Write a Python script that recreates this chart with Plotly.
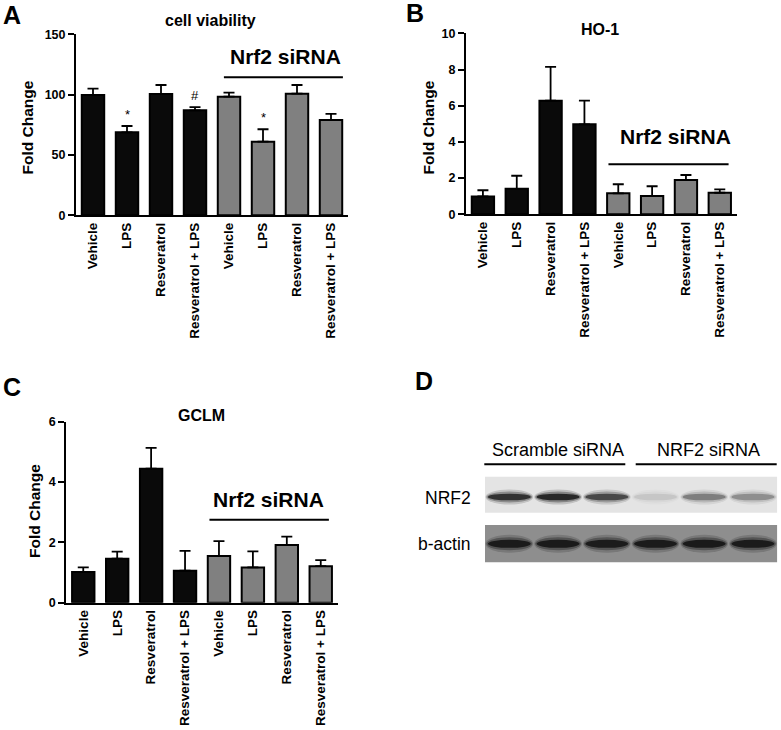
import plotly.graph_objects as go

W, H = 781, 730
FONT = "Liberation Sans, Arial, sans-serif"

# ---------------- data ----------------
tick_labels = ["Vehicle", "LPS", "Resveratrol", "Resveratrol + LPS",
               "Vehicle", "LPS", "Resveratrol", "Resveratrol + LPS"]
positions = list(range(8))

viability_mean = [99.7, 68.8, 100.6, 87.0, 98.3, 61.0, 100.8, 79.0]
viability_err = [5.3, 5.2, 7.4, 2.6, 3.4, 10.3, 7.2, 5.0]
viability_marks = ["", "*", "", "#", "", "*", "", ""]

ho1_mean = [0.99, 1.41, 6.28, 4.97, 1.16, 1.01, 1.90, 1.19]
ho1_err = [0.34, 0.72, 1.86, 1.31, 0.50, 0.54, 0.27, 0.19]

gclm_mean = [1.02, 1.46, 4.44, 1.06, 1.55, 1.17, 1.91, 1.21]
gclm_err = [0.15, 0.23, 0.69, 0.66, 0.49, 0.53, 0.28, 0.20]

groups = ["control"] * 4 + ["nrf2"] * 4

blot_lanes = [1, 2, 3, 4, 5, 6]
nrf2_intensity = [0.86, 0.93, 0.70, 0.10, 0.40, 0.33]
actin_intensity = [0.96, 0.98, 0.95, 0.96, 0.98, 0.96]

# ---------------- helpers ----------------
def px(x):
    return x / W


def py(y):
    return 1 - y / H


group_color = {"control": "#0a0a0a", "nrf2": "#808080"}
bar_colors = [group_color[g] for g in groups]

fig = go.Figure()

panels = [
    ("", viability_mean, viability_err, 150, 50, (76, 348), (215.3, 34.3)),
    ("2", ho1_mean, ho1_err, 10, 2, (466, 736.7), (214.3, 33.3)),
    ("3", gclm_mean, gclm_err, 6, 2, (66.3, 337.7), (602.7, 421.7)),
]

for suffix, mean, err, ymax, dt, (xl, xr), (yb, yt) in panels:
    fig.add_trace(go.Bar(
        x=positions, y=mean,
        xaxis="x" + suffix, yaxis="y" + suffix,
        width=0.66,
        marker=dict(color=bar_colors, line=dict(color="black", width=2)),
        error_y=dict(type="data", symmetric=False, array=err,
                     arrayminus=[0] * len(err), color="black",
                     thickness=1.8, width=5.5),
        showlegend=False, hoverinfo="skip",
    ))
    fig.layout["xaxis" + suffix] = dict(
        domain=[px(xl), px(xr)], range=[-0.5, 7.5],
        anchor="y" + suffix, showline=True, linecolor="black", linewidth=2,
        ticks="", tickvals=positions, ticktext=tick_labels, tickangle=-90,
        tickfont=dict(family=FONT, size=13.5, color="black", weight="bold"),
        showgrid=False, zeroline=False, fixedrange=True, automargin=False,
    )
    fig.layout["yaxis" + suffix] = dict(
        domain=[py(yb), py(yt)], range=[0, ymax], dtick=dt,
        anchor="x" + suffix, showline=True, linecolor="black", linewidth=2,
        ticks="outside", ticklen=6, tickwidth=2, tickcolor="black",
        tickfont=dict(family=FONT, size=12.5, color="black", weight="bold"),
        showgrid=False, zeroline=False, fixedrange=True, automargin=False,
    )

# significance marks (panel A)
for xi, (m, e, s) in enumerate(zip(viability_mean, viability_err, viability_marks)):
    if s:
        fig.add_annotation(x=xi, y=m + e + 2, xref="x", yref="y", text=s,
                           showarrow=False, xanchor="center", yanchor="bottom",
                           font=dict(family=FONT, size=13, color="black"))

# Nrf2 siRNA brackets
brackets = [
    ("", 3.85, 7.35, 114.4, 5.66, 131.3),
    ("2", 3.71, 7.26, 2.76, 5.69, 4.29),
    ("3", 3.72, 7.24, 2.75, 5.46, 3.41),
]
for suffix, x0, x1, yl, xt, ytxt in brackets:
    fig.add_shape(type="line", xref="x" + suffix, yref="y" + suffix,
                  x0=x0, x1=x1, y0=yl, y1=yl,
                  line=dict(color="black", width=2))
    fig.add_annotation(x=xt, y=ytxt, xref="x" + suffix, yref="y" + suffix,
                       text="Nrf2 siRNA", showarrow=False,
                       xanchor="center", yanchor="middle",
                       font=dict(family=FONT, size=21, color="black", weight="bold"))


def label(txt, x, y, size, bold=True, angle=0, xanchor="center"):
    fig.add_annotation(x=px(x), y=py(y), xref="paper", yref="paper", text=txt,
                       showarrow=False, xanchor=xanchor, yanchor="middle",
                       textangle=angle,
                       font=dict(family=FONT, size=size, color="black",
                                 weight="bold" if bold else "normal"))


# titles
for txt, x, y in [("cell viability", 211, 20), ("HO-1", 600, 30), ("GCLM", 201, 415)]:
    label(txt, x, y, 16)

# y-axis titles
for x, y in [(27.5, 128), (428, 127.5), (34.5, 511.5)]:
    label("Fold Change", x, y, 15.5, angle=-90)

# panel letters
for txt, x, y in [("A", 12, 15), ("B", 415, 13), ("C", 12, 387), ("D", 424, 381)]:
    label(txt, x, y, 25)

# ---------------- panel D : western blot ----------------
fig.layout["xaxis4"] = dict(domain=[px(485), px(777.3)], range=[0.5, 6.5],
                            anchor="y4", visible=False, fixedrange=True)
fig.layout["yaxis4"] = dict(domain=[py(562.3), py(476.7)], range=[0, 1],
                            anchor="x4", visible=False, fixedrange=True)

fig.add_shape(type="rect", xref="x4", yref="paper", x0=0.5, x1=6.5,
              y0=py(512.7), y1=py(476.7), fillcolor="#e4e4e4",
              line=dict(width=0), layer="below")
fig.add_shape(type="rect", xref="x4", yref="paper", x0=0.5, x1=6.5,
              y0=py(562.3), y1=py(525), fillcolor="#8e8e8e",
              line=dict(width=0), layer="below")


def bands(intens, yc, hh):
    for lane, a in zip(blot_lanes, intens):
        for hw, hf, op in [(0.49, 1.8, 0.18), (0.47, 1.3, 0.35), (0.44, 0.8, 0.85)]:
            fig.add_shape(type="circle", xref="x4", yref="paper",
                          x0=lane - hw, x1=lane + hw,
                          y0=py(yc + hh * hf), y1=py(yc - hh * hf),
                          fillcolor=f"rgba(15,15,15,{a * op:.3f})",
                          line=dict(width=0))


bands(nrf2_intensity, 497, 4.2)
bands(actin_intensity, 543.8, 5.0)

for txt, xc, x0, x1 in [("Scramble siRNA", 558, 484.3, 625.3),
                        ("NRF2 siRNA", 708.3, 635.7, 776.7)]:
    label(txt, xc, 449.5, 18, bold=False)
    fig.add_shape(type="line", xref="paper", yref="paper",
                  x0=px(x0), x1=px(x1), y0=py(464.3), y1=py(464.3),
                  line=dict(color="black", width=2))

for txt, y in [("NRF2", 498), ("b-actin", 544)]:
    label(txt, 472.5, y, 17.5, bold=False, xanchor="right")

fig.update_layout(
    width=W, height=H,
    margin=dict(l=0, r=0, t=0, b=0, pad=0),
    paper_bgcolor="white", plot_bgcolor="white",
    font=dict(family=FONT, color="black"),
)

fig.write_html("out.html",
               config={"displayModeBar": False},
               post_script="document.body.style.margin='0px';"
                           "document.body.style.overflow='hidden';")
